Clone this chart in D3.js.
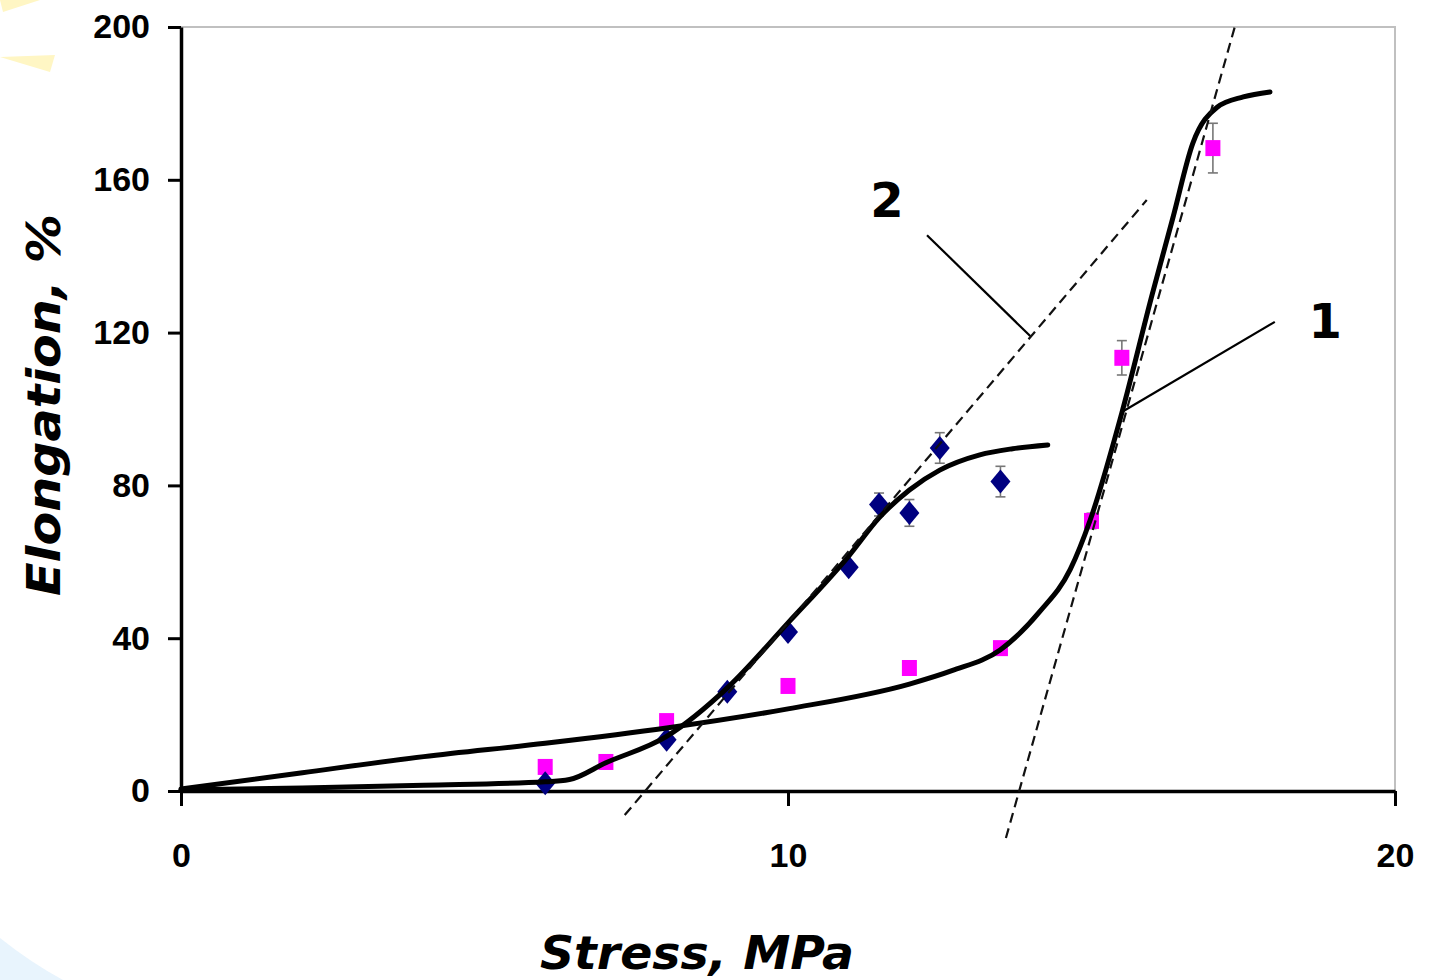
<!DOCTYPE html>
<html>
<head>
    <title>Elongation vs Stress</title>
    <script src="https://d3js.org/d3.v7.min.js"></script>
    <style>
        body { margin: 0; background: #fff; }
        .tick text { font: bold 34px 'Liberation Sans', Arial, sans-serif; }
        .axis path, .axis line { stroke: #000; }
    </style>
</head>
<body>
    <script>
        // measured points, series 1 (squares) and series 2 (diamonds)
        var stress1 = [6, 7, 8, 10, 12, 13.5, 15, 15.5, 17];
        var elong1 = [6.3, 7.6, 18.3, 27.5, 32.2, 37.4, 70.7, 113.4, 168.3];
        var err1 = [0, 0, 0, 0, 0, 0, 2, 4.5, 6.5];

        var stress2 = [6, 8, 9, 10, 11, 11.5, 12, 12.5, 13.5];
        var elong2 = [2, 13.4, 26, 41.6, 58.6, 75, 72.8, 89.8, 81];
        var err2 = [0, 0, 0, 0, 0, 3, 3.5, 4, 4];

        // fitted curves
        var fitX1 = [0, 2, 4, 6, 8, 10, 12, 12.7, 13.5, 14.15, 14.65, 14.98, 15.5, 16.0, 16.34, 16.67, 17.07, 17.5, 17.94];
        var fitY1 = [0.5, 4.8, 9, 12.5, 16.5, 21.5, 28, 31.5, 37, 47, 58, 71, 99, 130, 150, 169.6, 179, 181.7, 183];
        var fitX2 = [0, 2, 4, 6, 6.4, 7, 8, 9, 10, 11, 11.5, 12, 12.5, 13.16, 13.7, 14.28];
        var fitY2 = [0.3, 0.8, 1.5, 2.4, 3.0, 7.4, 14.3, 27, 44, 61.5, 71.5, 78.8, 84, 88, 89.6, 90.6];

        // tangent (dashed) lines
        var tangent1 = [[13.59, -12.3], [17.36, 200]];
        var tangent2 = [[7.31, -6.3], [15.91, 154.7]];

        var xTicks = [0, 10, 20];
        var yTicks = [0, 40, 80, 120, 160, 200];

        var W = 1429, H = 980;
        var svg = d3.select("body").append("svg")
            .attr("width", W)
            .attr("height", H);

        // faint slide background shapes
        svg.append("path")
            .attr("d", "M0,57 L55,55 L50,72 Z")
            .attr("fill", "#fff6c4");
        svg.append("path")
            .attr("d", "M0,0 L40,0 L3,12 Z")
            .attr("fill", "#fff6c4");
        svg.append("path")
            .attr("d", "M0,938 Q30,962 63,980 L0,980 Z")
            .attr("fill", "#e8f4fd");

        var x = d3.scaleLinear().domain([0, 20]).range([181, 1395]);
        var y = d3.scaleLinear().domain([0, 200]).range([791, 27]);

        // plot frame (top and right, light gray)
        svg.append("path")
            .attr("d", "M" + x(0) + "," + y(200) + "H" + x(20) + "V" + y(0))
            .attr("fill", "none")
            .attr("stroke", "#c0c0c0")
            .attr("stroke-width", 2);

        var yAxis = svg.append("g")
            .attr("class", "axis")
            .attr("transform", "translate(" + x(0) + ",0)")
            .call(d3.axisLeft(y).tickValues(yTicks).tickSize(13).tickSizeOuter(0).tickPadding(18));
        yAxis.select(".domain").attr("stroke-width", 3.5);
        yAxis.selectAll(".tick line").attr("stroke-width", 3);

        var xAxis = svg.append("g")
            .attr("class", "axis")
            .attr("transform", "translate(0," + y(0) + ")")
            .call(d3.axisBottom(x).tickValues(xTicks).tickSize(15).tickSizeOuter(0).tickPadding(37));
        xAxis.select(".domain").attr("stroke-width", 3.5);
        xAxis.selectAll(".tick line").attr("stroke-width", 3);
        svg.selectAll(".tick text").attr("fill", "#000");

        // error bars
        function errorBars(xs, ys, es) {
            var g = svg.append("g").attr("stroke", "#777").attr("stroke-width", 1.6);
            xs.forEach(function(sx, i) {
                if (!es[i]) return;
                var cx = x(sx), y1 = y(ys[i] + es[i]), y2 = y(ys[i] - es[i]);
                g.append("line").attr("x1", cx).attr("x2", cx).attr("y1", y1).attr("y2", y2);
                g.append("line").attr("x1", cx - 5).attr("x2", cx + 5).attr("y1", y1).attr("y2", y1);
                g.append("line").attr("x1", cx - 5).attr("x2", cx + 5).attr("y1", y2).attr("y2", y2);
            });
        }
        errorBars(stress1, elong1, err1);
        errorBars(stress2, elong2, err2);

        // markers
        svg.append("g").selectAll("rect")
            .data(stress1.map(function(d, i) { return [d, elong1[i]]; }))
            .enter().append("rect")
            .attr("x", function(d) { return x(d[0]) - 7.5; })
            .attr("y", function(d) { return y(d[1]) - 8; })
            .attr("width", 15)
            .attr("height", 16)
            .attr("fill", "#ff00ff");

        svg.append("g").selectAll("path")
            .data(stress2.map(function(d, i) { return [d, elong2[i]]; }))
            .enter().append("path")
            .attr("d", function(d) {
                var cx = x(d[0]), cy = y(d[1]);
                return "M" + cx + "," + (cy - 12) + "L" + (cx + 10) + "," + cy +
                    "L" + cx + "," + (cy + 12) + "L" + (cx - 10) + "," + cy + "Z";
            })
            .attr("fill", "#000080");

        // fitted curves
        var line = d3.line()
            .x(function(d) { return x(d[0]); })
            .y(function(d) { return y(d[1]); })
            .curve(d3.curveMonotoneX);

        [[fitX1, fitY1], [fitX2, fitY2]].forEach(function(s) {
            svg.append("path")
                .datum(s[0].map(function(d, i) { return [d, s[1][i]]; }))
                .attr("d", line)
                .attr("fill", "none")
                .attr("stroke", "#000")
                .attr("stroke-width", 5)
                .attr("stroke-linecap", "round");
        });

        // dashed tangents
        var straight = d3.line()
            .x(function(d) { return x(d[0]); })
            .y(function(d) { return y(d[1]); });
        [tangent1, tangent2].forEach(function(t) {
            svg.append("path")
                .attr("d", straight(t))
                .attr("fill", "none")
                .attr("stroke", "#111")
                .attr("stroke-width", 2.2)
                .attr("stroke-dasharray", "10,6");
        });

        // curve labels with leader lines
        var labels = [
            { text: "2", tx: 11.63, ty: 150.3, from: [12.29, 145.5], to: [13.99, 119.1] },
            { text: "1", tx: 18.85, ty: 118.6, from: [18.02, 122.8], to: [15.5, 99.2] }
        ];
        labels.forEach(function(l) {
            svg.append("line")
                .attr("x1", x(l.from[0])).attr("y1", y(l.from[1]))
                .attr("x2", x(l.to[0])).attr("y2", y(l.to[1]))
                .attr("stroke", "#000")
                .attr("stroke-width", 2.2);
            svg.append("text")
                .attr("x", x(l.tx)).attr("y", y(l.ty))
                .attr("text-anchor", "middle")
                .style("font", "bold 48px 'DejaVu Sans', Verdana, sans-serif")
                .text(l.text);
        });

        // axis titles
        svg.append("text")
            .attr("transform", "translate(60,405) rotate(-90)")
            .attr("text-anchor", "middle")
            .attr("textLength", 382)
            .attr("lengthAdjust", "spacingAndGlyphs")
            .style("font", "italic bold 46px 'DejaVu Sans', Verdana, sans-serif")
            .text("Elongation, %");

        svg.append("text")
            .attr("x", 697)
            .attr("y", 969)
            .attr("text-anchor", "middle")
            .attr("textLength", 314)
            .attr("lengthAdjust", "spacingAndGlyphs")
            .style("font", "italic bold 46px 'DejaVu Sans', Verdana, sans-serif")
            .text("Stress, MPa");
    </script>
</body>
</html>
